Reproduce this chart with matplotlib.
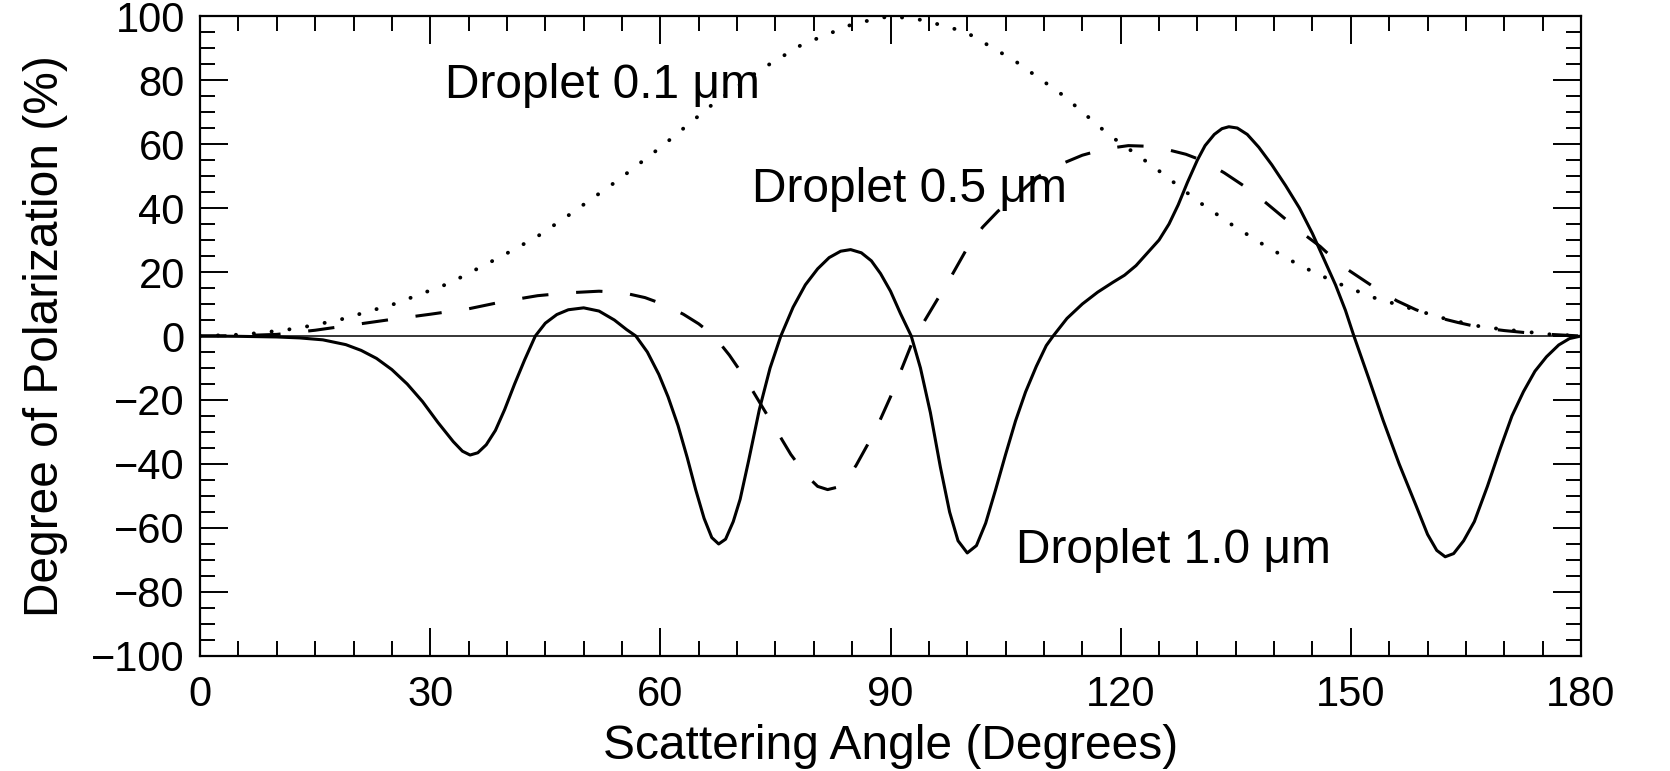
import numpy as np
import matplotlib
matplotlib.use('Agg')
import matplotlib.pyplot as plt
from matplotlib.ticker import MultipleLocator

plt.rcParams['font.family'] = ['Liberation Sans', 'DejaVu Sans']
plt.rcParams['lines.scale_dashes'] = False

# droplet 1.0 um (solid)
ang_10 = [0, 5, 10, 13, 16, 19, 21, 23, 25, 27, 29, 31, 33, 34.2, 35.2, 36.2, 37.3, 38.5,
          39.7, 41, 42.3, 43.7, 45, 46.5, 48, 50, 52, 54, 55.6, 56.8, 58.3, 59.8, 61,
          62.3, 63.5, 64.6, 65.7, 66.7, 67.6, 68.5, 69.5, 70.4, 71.5, 72.9, 74.3, 75.7,
          77.3, 78.9, 80.5, 82, 83.5, 84.8, 86.2, 87.5, 88.7, 90, 91.3, 92.7, 93.9, 95.2,
          96.5, 97.7, 98.8, 100, 101.2, 102.4, 103.7, 105, 106.3, 107.6, 109, 110.3,
          111.2, 113, 115, 117, 119, 120.5, 122, 123.5, 125, 126.3, 127.5, 128.7, 130,
          131, 132.2, 133.2, 134.1, 135.2, 136.5, 138, 139.7, 141.5, 143.3, 145, 146.5,
          148, 149.3, 150.4, 152.3, 154.2, 156.3, 158.5, 160, 161.2, 162.3, 163.4, 164.7,
          166.1, 167.8, 169.5, 171, 172.5, 174, 175.5, 177.1, 178.5, 180]
pol_10 = [0, -0.1, -0.3, -0.6, -1.2, -2.7, -4.5, -7, -10.5, -15, -20.5, -27, -33, -36,
          -37.2, -36.5, -34, -29.5, -23, -15, -7.5, 0, 4, 6.7, 8.2, 8.8, 7.8, 5, 2, 0,
          -5, -12, -19, -28, -38, -48, -57, -63, -65, -63.5, -58, -51, -39, -23, -10, 0,
          9, 16, 21, 24.5, 26.5, 27, 26, 23.5, 19.5, 14, 7, 0, -10, -24,
          -41, -55, -64, -67.8, -65.5, -58.5, -48, -37, -26.5, -17.5, -9.5, -3,
          0, 5.5, 10, 13.7, 16.8, 19, 22, 26, 30, 35, 41, 48, 55,
          59.5, 63, 64.8, 65.4, 65, 63, 59, 53.5, 47, 40, 32, 24,
          16, 8, 0, -13, -26.3, -40, -53, -62, -67, -69, -68, -64,
          -58, -47, -35, -25, -17.4, -11, -6.5, -2.8, -0.8, 0]

# droplet 0.5 um (dashed)
ang_05 = [0, 5, 10, 15, 20, 25, 30, 35, 40, 44, 48, 52, 55, 58, 60.5, 63, 65, 67, 69, 71,
          73, 75, 77, 79, 80.5, 81.8, 83, 84.3, 85.5, 87, 88.5, 90, 91.5, 93, 94.5, 96,
          98, 100, 102, 104, 106.5, 109, 112, 115, 118, 121, 123.5, 126, 128.5, 131,
          133.5, 136, 138.5, 141, 143.5, 146, 148.5, 151, 153.5, 156, 158.5, 161, 164,
          167, 170, 173, 176, 180]
pol_05 = [0, 0.1, 0.5, 1.8, 3.5, 5.2, 6.8, 8.5, 11, 12.6, 13.5, 14, 13.6, 12, 9.8, 6.8,
          3.8, 0, -6, -13, -21, -29, -37, -43.5, -47, -48, -47.3, -44.5, -40.5, -34,
          -27, -19, -10, -1, 5, 11, 19, 27.5, 34, 39, 44, 49.5, 53.5, 56.5, 58.5, 59.5,
          59.3, 58.3, 56.8, 54.5, 51, 47, 42.5, 37.5, 32.5, 28, 22.5, 18.5, 14.5, 11,
          8.2, 6, 4.2, 2.6, 1.7, 1, 0.5, 0]

# droplet 0.1 um (dotted)
ang_01 = [0, 5, 8, 12.7, 18.1, 25.3, 32.5, 39.2, 43.9, 47.9, 54.3, 60.2, 66.6, 72.9, 78.4,
          85.2, 90, 94.3, 99.8, 106.2, 112.5, 118.4, 124.3, 130.2, 134.6, 138.7, 143.3,
          147.9, 152.7, 157.8, 162.3, 167.2, 172.9, 176, 180]
pol_01 = [0, 0.4, 1, 2.4, 5, 10, 16.5, 24.8, 31, 37.5, 48.4, 59.3, 72, 83, 91,
          97.6, 100, 98.7, 95, 86, 75.2, 63, 52.9, 41.9, 34.6, 28.4, 22.1,
          16.9, 12.2, 8.6, 5.4, 2.8, 1.3, 0.5, 0]

labels = ['Droplet 0.1 \u03bcm', 'Droplet 0.5 \u03bcm', 'Droplet 1.0 \u03bcm']
label_x = [31.9, 71.9, 106.4]
label_y = [74.5, 42, -71]

fig = plt.figure(figsize=(16.7, 7.71), dpi=100)
ax = fig.add_axes([0.1198, 0.1492, 0.8269, 0.8300])

ax.axhline(0, color='black', linewidth=1.1)
ax.plot(ang_01, pol_01, color='black', linewidth=2.8, dashes=(0.1, 12.8),
        dash_capstyle='round')
ax.plot(ang_05, pol_05, color='black', linewidth=2.2, dashes=(19, 20))
ax.plot(ang_10, pol_10, color='black', linewidth=2.2)

for t, x, y in zip(labels, label_x, label_y):
    ax.text(x, y, t, fontsize=34.5, va='baseline', ha='left')

ax.set_xlim(0, 180)
ax.set_ylim(-100, 100)
ax.xaxis.set_major_locator(MultipleLocator(30))
ax.xaxis.set_minor_locator(MultipleLocator(5))
ax.yaxis.set_major_locator(MultipleLocator(20))
ax.yaxis.set_minor_locator(MultipleLocator(5))
ax.tick_params(which='both', direction='in', top=True, right=True, width=1.4)
ax.tick_params(which='major', length=20, labelsize=30)
ax.tick_params(axis='x', which='major', pad=14)
ax.tick_params(axis='y', which='major', pad=11)
ax.tick_params(which='minor', length=10.5)
for s in ax.spines.values():
    s.set_linewidth(1.6)

ax.set_xlabel('Scattering Angle (Degrees)', fontsize=34.5, labelpad=6)
ax.set_ylabel('Degree of Polarization (%)', fontsize=34.5, labelpad=17)

fig.savefig('out.png', dpi=100)
